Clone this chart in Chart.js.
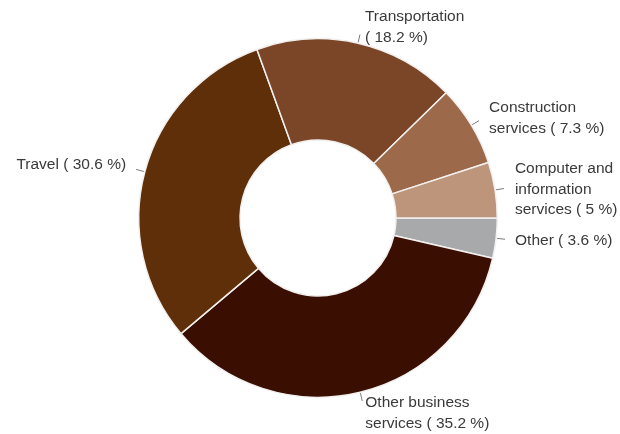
<!DOCTYPE html>
<html>
<head>
<meta charset="utf-8">
<script src="https://cdn.jsdelivr.net/npm/chart.js@4.4.0/dist/chart.umd.min.js"></script>
<style>
  html, body { margin: 0; padding: 0; background: #fff; }
  #wrap { width: 620px; height: 434px; }
</style>
</head>
<body>
<div id="wrap"><canvas id="chart"></canvas></div>
<script>
// data, clockwise from 3 o'clock
const categories = ["Other", "Other business services", "Travel", "Transportation", "Construction services", "Computer and information services"];
const shares = [3.6, 35.2, 30.6, 18.2, 7.3, 5];
const labelLines = [
  ["Other ( 3.6 %)"],
  ["Other business", "services ( 35.2 %)"],
  ["Travel ( 30.6 %)"],
  ["Transportation", "( 18.2 %)"],
  ["Construction", "services ( 7.3 %)"],
  ["Computer and", "information", "services ( 5 %)"],
];
const colors = ["#a8a9ab", "#3a0f01", "#5f2f09", "#7b4527", "#9c6a4b", "#bd957a"];

// where each label's text sits relative to the end of its leader line
const placement = [
  { dx: 10, dy: 1, align: "left", v: "middle" },
  { dx: 3, dy: 2, align: "left", v: "top" },
  { dx: -10, dy: -4.5, align: "right", v: "middle" },
  { dx: 5, dy: 3, align: "left", v: "bottom" },
  { dx: 10, dy: 8, align: "left", v: "bottom" },
  { dx: 11, dy: 1, align: "left", v: "middle" },
];

const calloutPlugin = {
  id: "callouts",
  afterDraw(chart) {
    const ctx = chart.ctx;
    const arcs = chart.getDatasetMeta(0).data;
    const lineH = 20.5;
    ctx.save();
    ctx.font = "15.5px 'Liberation Sans', Arial, sans-serif";
    arcs.forEach((arc, i) => {
      const { x, y, startAngle, endAngle, outerRadius } = arc.getProps(["x", "y", "startAngle", "endAngle", "outerRadius"], true);
      const mid = (startAngle + endAngle) / 2;
      const c = Math.cos(mid), s = Math.sin(mid);
      const r0 = outerRadius + 1, r1 = outerRadius + 9;
      const ex = x + c * r1, ey = y + s * r1;
      ctx.strokeStyle = "#7a7a7a";
      ctx.lineWidth = 1;
      ctx.beginPath();
      ctx.moveTo(x + c * r0, y + s * r0);
      ctx.lineTo(ex, ey);
      ctx.stroke();

      const p = placement[i];
      const lines = labelLines[i];
      const n = lines.length;
      let firstY;
      if (p.v === "middle") firstY = ey + p.dy - (n - 1) * lineH / 2;
      else if (p.v === "bottom") firstY = ey + p.dy - (n - 1) * lineH;
      else firstY = ey + p.dy;
      ctx.fillStyle = "#3a3a3a";
      ctx.textAlign = p.align;
      ctx.textBaseline = "middle";
      lines.forEach((t, k) => ctx.fillText(t, ex + p.dx, firstY + k * lineH));
    });
    ctx.restore();
  },
};

new Chart(document.getElementById("chart"), {
  type: "doughnut",
  data: {
    labels: categories,
    datasets: [
      {
        data: shares,
        backgroundColor: colors,
        borderColor: "#f2f0ee",
        borderWidth: 1.5,
        hoverOffset: 0,
      },
    ],
  },
  options: {
    responsive: true,
    maintainAspectRatio: false,
    animation: false,
    rotation: 90,
    cutout: "43.5%",
    layout: { padding: { top: 38, bottom: 36, left: 138, right: 122 } },
    plugins: {
      legend: { display: false },
      tooltip: { enabled: false },
    },
  },
  plugins: [calloutPlugin],
});
</script>
</body>
</html>
